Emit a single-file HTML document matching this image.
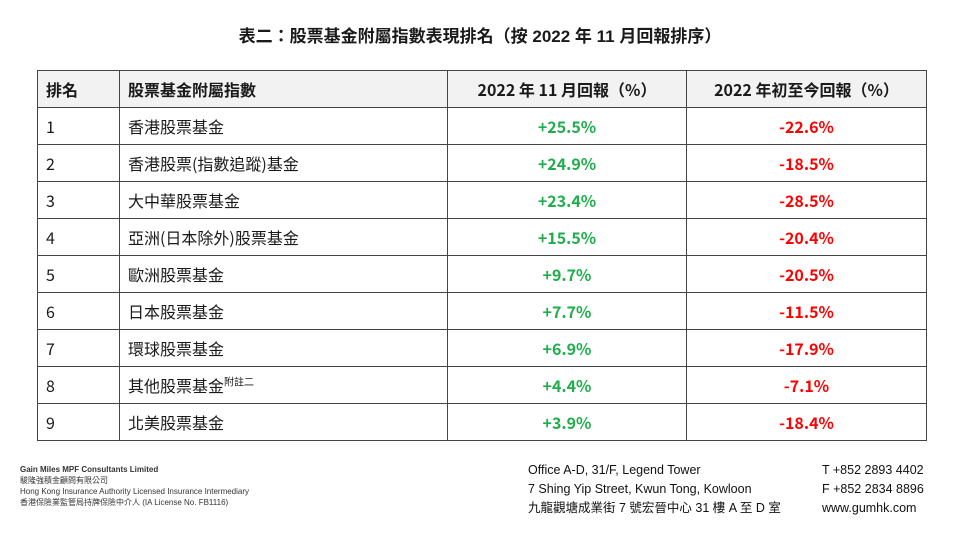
<!DOCTYPE html>
<html><head><meta charset="utf-8"><style>
body{margin:0;width:960px;height:548px;background:#fff;position:relative;overflow:hidden;font-family:"Liberation Sans","Noto Sans CJK TC",sans-serif;color:#1a1a1a}
.title{position:absolute;top:22px;left:0;width:960px;text-align:center;font-size:17px;font-weight:bold}
table{position:absolute;left:37px;top:70px;border-collapse:collapse;width:890px;table-layout:fixed}
tr{height:37px}
td,th{border:1.5px solid #444;padding:0 8px;font-size:16px;line-height:20px;text-align:left;vertical-align:middle;font-family:"Noto Sans CJK TC","Liberation Sans",sans-serif}
th{background:#f2f2f2;font-weight:bold}
.c{text-align:center}
.g{color:#1fae4b;font-weight:bold;text-align:center}
.r{color:#f00;font-weight:bold;text-align:center}
sup{font-size:10px;line-height:0}
.f{position:absolute;font-size:8px;color:#333;line-height:11px}
.f2{position:absolute;font-size:12.5px;line-height:19px;color:#111}
</style></head><body>
<div class="title">表二：股票基金附屬指數表現排名（按 2022 年 11 月回報排序）</div>
<table>
<colgroup><col style="width:82px"><col style="width:328px"><col style="width:239px"><col></colgroup>
<tr style="height:37px"><th>排名</th><th>股票基金附屬指數</th><th class="c">2022 年 11 月回報（%）</th><th class="c">2022 年初至今回報（%）</th></tr>
<tr><td>1</td><td>香港股票基金</td><td class="g">+25.5%</td><td class="r">-22.6%</td></tr>
<tr><td>2</td><td>香港股票(指數追蹤)基金</td><td class="g">+24.9%</td><td class="r">-18.5%</td></tr>
<tr><td>3</td><td>大中華股票基金</td><td class="g">+23.4%</td><td class="r">-28.5%</td></tr>
<tr><td>4</td><td>亞洲(日本除外)股票基金</td><td class="g">+15.5%</td><td class="r">-20.4%</td></tr>
<tr><td>5</td><td>歐洲股票基金</td><td class="g">+9.7%</td><td class="r">-20.5%</td></tr>
<tr><td>6</td><td>日本股票基金</td><td class="g">+7.7%</td><td class="r">-11.5%</td></tr>
<tr><td>7</td><td>環球股票基金</td><td class="g">+6.9%</td><td class="r">-17.9%</td></tr>
<tr><td>8</td><td>其他股票基金<sup>附註二</sup></td><td class="g">+4.4%</td><td class="r">-7.1%</td></tr>
<tr><td>9</td><td>北美股票基金</td><td class="g">+3.9%</td><td class="r">-18.4%</td></tr>
</table>
<div class="f" style="left:20px;top:464px"><b>Gain Miles MPF Consultants Limited</b><br>駿隆強積金顧問有限公司<br>Hong Kong Insurance Authority Licensed Insurance Intermediary<br>香港保險業監管局持牌保險中介人 (IA License No. FB1116)</div>
<div class="f2" style="left:528px;top:461px">Office A-D, 31/F, Legend Tower<br>7 Shing Yip Street, Kwun Tong, Kowloon<br>九龍觀塘成業街 7 號宏晉中心 31 樓 A 至 D 室</div>
<div class="f2" style="left:822px;top:461px">T +852 2893 4402<br>F +852 2834 8896<br>www.gumhk.com</div>
</body></html>
